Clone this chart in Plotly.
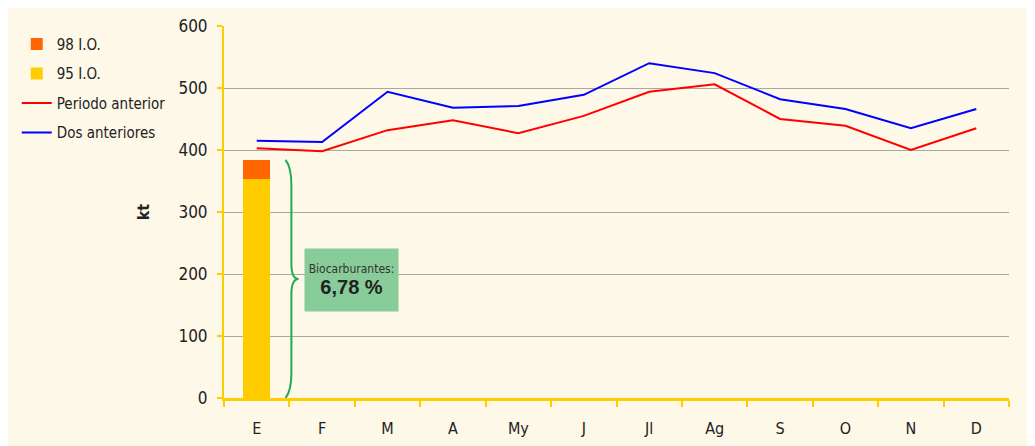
import plotly.graph_objects as go

months = ["E", "F", "M", "A", "My", "J", "Jl", "Ag", "S", "O", "N", "D"]
io95 = [353]
io98 = [31]
periodo_anterior = [403, 398, 432, 448, 427, 455, 494, 506, 450, 439, 400, 435]
dos_anteriores = [415, 413, 494, 468, 471, 489, 540, 524, 482, 466, 435, 466]
bio_pct = "6,78 %"
yticks = [0, 100, 200, 300, 400, 500, 600]

FONT = "DejaVu Sans Condensed, Liberation Sans Narrow, Arial Narrow, sans-serif"
YEL = "#FFCC00"
ORA = "#FF6600"
CREAM = "#FDF8E8"

fig = go.Figure()
fig.add_trace(go.Bar(x=months[:len(io95)], y=io95, name="95 I.O.", marker_color=YEL,
                     marker_line_width=0, width=0.41, legendrank=2, legendgroup="g2"))
fig.add_trace(go.Bar(x=months[:len(io98)], y=io98, name="98 I.O.", marker_color=ORA,
                     marker_line_width=0, width=0.41, legendrank=1, legendgroup="g1"))
fig.add_trace(go.Scatter(x=months, y=periodo_anterior, mode="lines", name="Periodo anterior",
                         line=dict(color="#FF0000", width=2), legendrank=3, legendgroup="g3"))
fig.add_trace(go.Scatter(x=months, y=dos_anteriores, mode="lines", name="Dos anteriores",
                         line=dict(color="#0000FF", width=2), legendrank=4, legendgroup="g4"))

total = io95[0] + io98[0]
mid = total / 2
xa, xb, xc = 0.44, 0.53, 0.64
path = (f"M {xa},{total} Q {xb},{total-12} {xb},{total-40} "
        f"L {xb},{mid+25} Q {xb},{mid} {xc},{mid} "
        f"Q {xb},{mid} {xb},{mid-25} L {xb},40 Q {xb},12 {xa},0")

shapes = [
    dict(type="rect", xref="paper", yref="paper", x0=-0.2752, x1=1.0242, y0=-0.1505, y1=1.05,
         fillcolor=CREAM, line_width=0, layer="below"),
    dict(type="path", xref="x", yref="y", path=path, line=dict(color="#22AA55", width=2)),
]

fig.add_annotation(x=1.45, y=190, xref="x", yref="y", showarrow=False,
                   text=("<span style='font-size:12px;color:#333333'>Biocarburantes:</span><br>"
                         f"<span style='font-family:Liberation Sans, Arial, sans-serif;font-size:20px'><b>{bio_pct}</b></span>"),
                   bgcolor="#88CC99", width=91, height=60, font=dict(family=FONT, color="#222222"),
                   align="center")

fig.update_layout(
    width=1035, height=446,
    margin=dict(l=216, r=34, t=18, b=56, autoexpand=False),
    paper_bgcolor="white", plot_bgcolor=CREAM,
    barmode="stack",
    shapes=shapes,
    showlegend=True,
    legend=dict(x=-0.264, y=0.995, xanchor="left", yanchor="top", bgcolor="rgba(0,0,0,0)",
                font=dict(family=FONT, size=15, color="#222222"), tracegroupgap=7,
                itemwidth=30, traceorder="grouped"),
    font=dict(family=FONT, size=16, color="#222222"),
    xaxis=dict(type="category", range=[-0.5, 11.5], showgrid=False, showline=True,
               linecolor=YEL, linewidth=3, ticks="outside", tickson="boundaries",
               ticklen=6, tickcolor=YEL, tickwidth=2, tickfont=dict(family=FONT, size=16),
               ticklabelstandoff=14),
    yaxis=dict(range=[0, 600], tickvals=yticks, showgrid=True, gridcolor="#A8A8A0", gridwidth=1,
               showline=True, linecolor=YEL, linewidth=2, ticks="outside", ticklen=5,
               tickcolor=YEL, tickwidth=2, tickfont=dict(family=FONT, size=17),
               ticklabelstandoff=6, zeroline=False,
               title=dict(text="<b>kt</b>", font=dict(family=FONT, size=16), standoff=25)),
)

fig.write_html("out.html")
